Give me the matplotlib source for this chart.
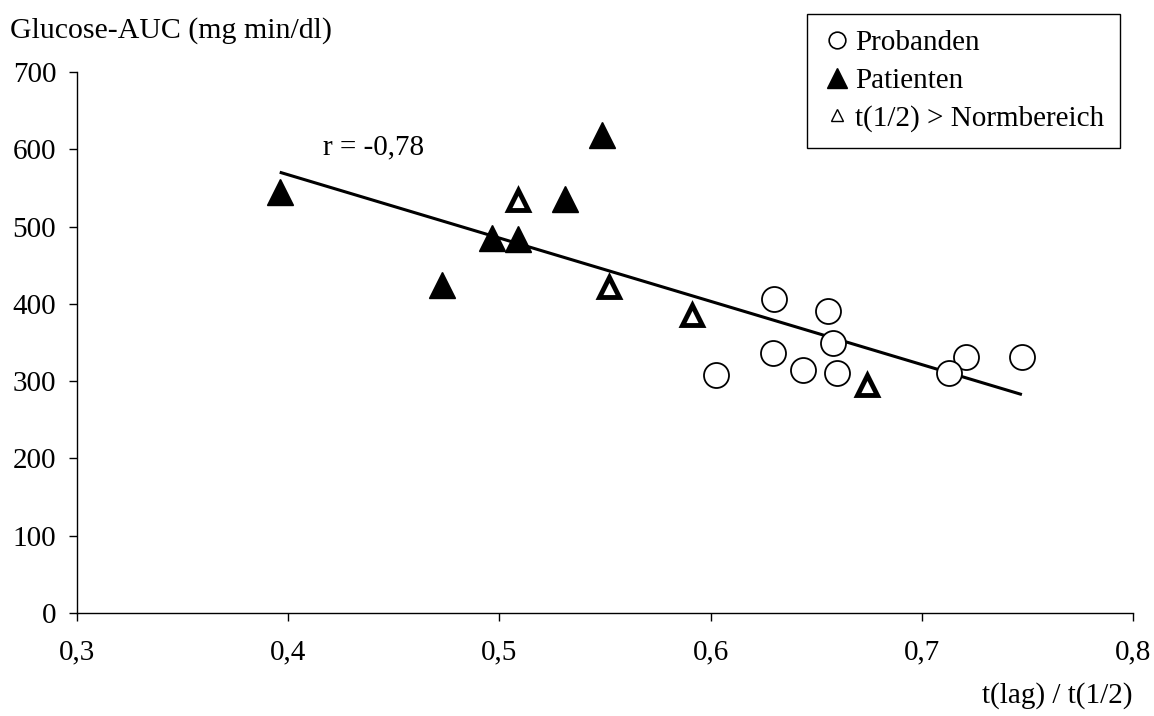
import numpy as np
import matplotlib
matplotlib.use("Agg")
import matplotlib.pyplot as plt
from matplotlib.lines import Line2D

plt.rcParams['font.family'] = ['Liberation Serif', 'DejaVu Serif']

# Probanden (healthy volunteers)
prob_x = [0.630, 0.6556, 0.658, 0.6295, 0.6437, 0.660, 0.6026, 0.721, 0.7129, 0.7474]
prob_y = [406, 391, 349, 336, 314, 310, 308, 331, 310, 331]

# Patienten with normal t(1/2)
pat_x = [0.396, 0.473, 0.4965, 0.5088, 0.531, 0.5486]
pat_y = [545, 424, 485, 484, 536, 618]

# Patienten with t(1/2) above the normal range
pat_hi_x = [0.5088, 0.552, 0.591, 0.674]
pat_hi_y = [534, 422, 386, 295]

x_ticks = [0.3, 0.4, 0.5, 0.6, 0.7, 0.8]
y_ticks = [0, 100, 200, 300, 400, 500, 600, 700]

FS = 21

fig = plt.figure(figsize=(11.54, 7.16), dpi=100)
ax = fig.add_axes([0.0667, 0.1439, 0.9151, 0.7555])

# regression over all subjects
all_x = np.array(prob_x + pat_x + pat_hi_x)
all_y = np.array(prob_y + pat_y + pat_hi_y)
slope, intercept = np.polyfit(all_x, all_y, 1)
r = np.corrcoef(all_x, all_y)[0, 1]
lx = np.array([all_x.min(), all_x.max()])
ax.plot(lx, slope * lx + intercept, color='black', lw=2.2, zorder=2,
        solid_capstyle='butt')

ax.plot(prob_x, prob_y, ls='none', marker='o', ms=18, mfc='white',
        mec='black', mew=1.3, zorder=3)
ax.plot(pat_x, pat_y, ls='none', marker='^', ms=19, mfc='black',
        mec='black', mew=1, zorder=4)
ax.plot(pat_hi_x, pat_hi_y, ls='none', marker='^', ms=15, mfc='white',
        mec='black', mew=3.5, zorder=4)

ax.text(0.4165, 602, 'r = ' + f'{r:.2f}'.replace('.', ','), fontsize=FS,
        ha='left', va='center')

ax.set_xlim(0.3, 0.8)
ax.set_ylim(0, 700)
ax.set_xticks(x_ticks)
ax.set_xticklabels([f'{v:.1f}'.replace('.', ',') for v in x_ticks])
ax.set_yticks(y_ticks)
ax.set_yticklabels([str(v) for v in y_ticks])
for s in ('top', 'right'):
    ax.spines[s].set_visible(False)
for s in ('left', 'bottom'):
    ax.spines[s].set_linewidth(1.0)
ax.tick_params(axis='both', direction='out', length=6, width=1.0,
               labelsize=FS, colors='black')
ax.tick_params(axis='x', pad=13)
ax.tick_params(axis='y', pad=9)

fig.text(0.0087, 0.958, 'Glucose-AUC (mg min/dl)', fontsize=21.5,
         ha='left', va='center')
fig.text(0.9818, 0.028, 't(lag) / t(1/2)', fontsize=FS, ha='right',
         va='center')

handles = [
    Line2D([], [], ls='none', marker='o', ms=12, mfc='white', mec='black', mew=1.2),
    Line2D([], [], ls='none', marker='^', ms=14, mfc='black', mec='black', mew=1),
    Line2D([], [], ls='none', marker='^', ms=8, mfc='white', mec='black', mew=1),
]
labels = ['Probanden', 'Patienten', 't(1/2) > Normbereich']
leg = fig.legend(handles, labels, loc='upper right',
                 bbox_to_anchor=(0.9705, 0.9804), borderaxespad=0,
                 fontsize=FS, frameon=True, fancybox=False, shadow=False,
                 handlelength=0.95, handletextpad=0.15, labelspacing=0.38,
                 borderpad=0.55, framealpha=1, edgecolor='black')
leg.get_frame().set_linewidth(1.0)

fig.savefig('out.png', dpi=100)
